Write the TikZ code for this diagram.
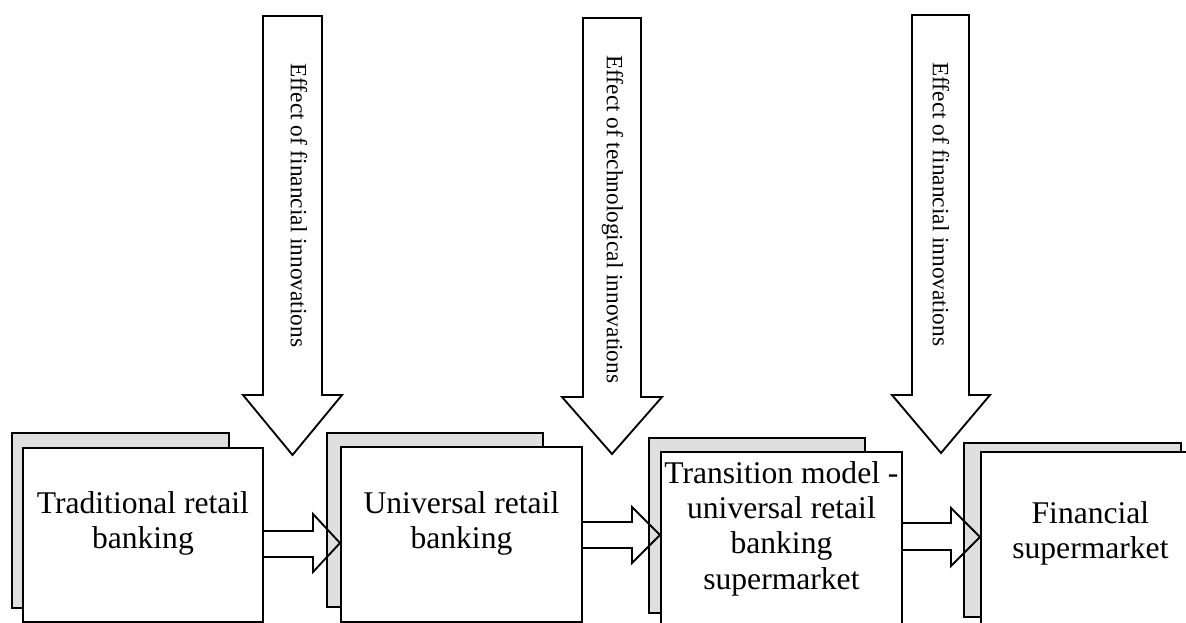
\documentclass[tikz,border=0pt]{standalone}
\usepackage{fontspec}
\setmainfont{Liberation Serif}
\usetikzlibrary{positioning}

\tikzset{
  backbox/.style={draw, line width=1.4pt, fill=gray!25},
  frontbox/.style={draw, line width=1.4pt, fill=white, anchor=north west, inner sep=0pt},
  boxtext/.style={inner sep=0pt, align=center, font=\fontsize{23.7pt}{26.5pt}\selectfont},
  blk/.style={draw, line width=1.4pt, line join=miter},
  sidetext/.style={inner sep=0pt, rotate=-90, anchor=west, font=\fontsize{17.5pt}{20pt}\selectfont}
}

\begin{document}
\begin{tikzpicture}[x=0.75pt, y=-0.75pt]
	\useasboundingbox (0,0) rectangle (1186,622);
	
	% back sheets
	\draw[backbox] (12,433) rectangle (229,608);
	\draw[backbox] (327,433) rectangle (543,607);
	\draw[backbox] (649,438) rectangle (865,613);
	\draw[backbox] (964,443) rectangle (1181,617);
	
	% front sheets
	\node[frontbox, minimum width=180pt, minimum height=130.5pt] (b1) at (22,447) {};
	\node[frontbox, minimum width=180.75pt, minimum height=131.25pt] (b2) at (340,446) {};
	\node[frontbox, minimum width=180.75pt, minimum height=142.5pt] (b3) at (660,451) {};
	\node[frontbox, minimum width=164.25pt, minimum height=142.5pt] (b4) at (980,451) {};
	
	\node[boxtext, below=33pt of b1.north] (t1) {Traditional retail\\banking};
	\node[boxtext, below=33.75pt of b2.north] (t2) {Universal retail\\banking};
	\node[boxtext, below=7.5pt of b3.north] (t3) {Transition model -\\universal retail\\banking\\supermarket};
	\node[boxtext, below=37.5pt of b4.north] (t4) {Financial\\supermarket};
	
	% arrows between the models
	\draw[blk] (b1.east |- 0,531) -- (313,531) -- (313,514) -- (b2.west |- 0,543)
	-- (313,572) -- (313,557) -- (b1.east |- 0,557);
	\draw[blk] (b2.east |- 0,522) -- (632,522) -- (632,507) -- (b3.west |- 0,535)
	-- (632,563) -- (632,548) -- (b2.east |- 0,548);
	\draw[blk] (b3.east |- 0,523) -- (951,523) -- (951,508) -- (b4.west |- 0,537)
	-- (951,566) -- (951,550) -- (b3.east |- 0,550);
	
	% effects from above
	\draw[blk] (263,16)--(322,16)--(322,395)--(342,395)--(292.5,455)--(243,395)--(263,395)--cycle;
	\draw[blk] (583,18)--(641,18)--(641,397)--(662,397)--(612,454)--(562,397)--(583,397)--cycle;
	\draw[blk] (912,15)--(969,15)--(969,395)--(990,395)--(941,453)--(892,395)--(912,395)--cycle;
	
	\node[sidetext] (e1) at (299,63) {Effect of financial innovations};
	\node[sidetext] (e2) at (612.5,55) {Effect of technological innovations};
	\node[sidetext] (e3) at (941,62) {Effect of financial innovations};
\end{tikzpicture}
\end{document}
